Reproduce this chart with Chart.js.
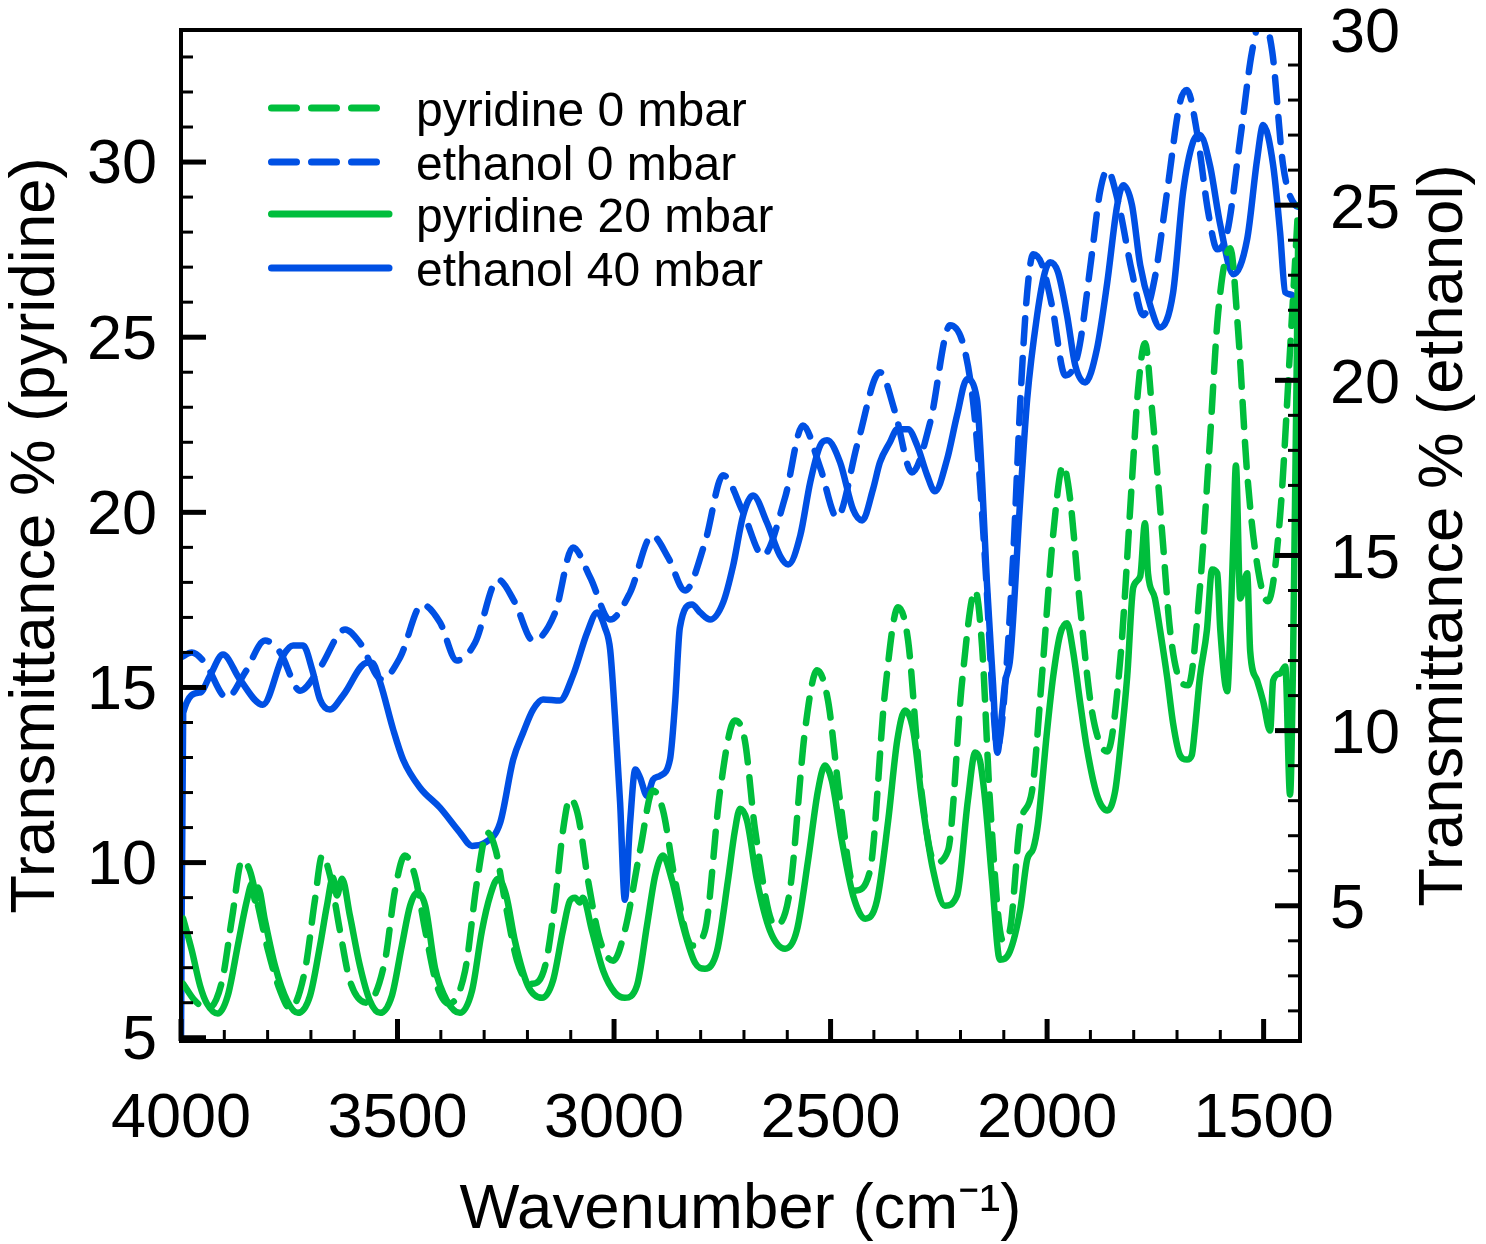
<!DOCTYPE html>
<html lang="en">
<head>
  <meta charset="UTF-8">
  <title>Transmittance spectra</title>
  <script src="https://cdn.jsdelivr.net/npm/chart.js"></script>
  <style>
    body { margin: 0; background: #fff; }
    #wrap { width: 1486px; height: 1244px; }
  </style>
</head>
<body>
  <div id="wrap"><canvas id="spectra" width="1486" height="1244"></canvas></div>

  <script>
    // axis ranges and tick labels
    const xMin = 1416, xMax = 4000;
    const xTicks = [4000, 3500, 3000, 2500, 2000, 1500];
    const yLeftMin = 4.907, yLeftMax = 33.77;
    const yLeftTicks = [5, 10, 15, 20, 25, 30];
    const yRightMin = 1.14, yRightMax = 30;
    const yRightTicks = [5, 10, 15, 20, 25, 30];

    // pyridine 0 mbar (left axis)
    const pyr0Wn = [3995,3968,3938,3905,3882,3859,3841,3822,3799,3771,3748,3714,3691,3674,3656,3633,3610,3570,3529,3506,
      3483,3460,3436,3409,3381,3344,3316,3293,3273,3252,3224,3189,3159,3136,3118,3102,3083,3060,3032,3002,
      2975,2940,2910,2887,2859,2820,2790,2755,2721,2698,2674,2628,2594,2559,2531,2506,2478,2443,2409,2374,
      2344,2321,2293,2259,2229,2196,2166,2150,2132,2102,2086,2062,2035,2012,1986,1963,1947,1924,1896,1861,
      1831,1804,1790,1774,1757,1734,1716,1693,1674,1647,1624,1605,1577,1559,1538,1513,1490,1462,1439,1420];
    const pyr0T = [6.54,6.06,5.83,6.63,8.43,10.06,9.77,8.77,7.49,6.34,5.83,6.91,8.91,10.2,9.63,8.06,6.63,6.0,7.2,9.2,
      10.2,9.63,8.06,6.49,5.97,6.91,9.49,10.86,10.34,8.91,7.2,6.54,7.06,8.91,10.91,11.83,11.34,9.49,7.77,7.2,
      8.06,10.34,12.06,11.49,9.49,7.63,8.06,12.06,14.06,13.49,10.91,8.2,9.2,13.77,15.49,14.63,11.77,9.2,9.77,14.91,
      17.29,16.34,12.34,10.0,10.34,15.2,17.77,16.14,11.77,7.77,8.06,11.11,12.03,15.31,19.37,21.34,20.4,17.34,14.29,13.17,
      15.8,20.91,23.49,24.83,22.83,19.37,16.63,15.2,15.06,17.86,22.06,25.69,27.54,25.2,21.11,18.37,17.46,19.89,24.63,28.77];

    // ethanol 0 mbar (right axis)
    const eth0Wn = [4000,3975,3945,3894,3852,3806,3771,3725,3679,3621,3587,3536,3494,3443,3402,3363,3321,3268,3229,3187,
      3136,3095,3055,3009,2963,2912,2875,2836,2790,2748,2702,2656,2605,2564,2524,2485,2437,2386,2351,2312,
      2270,2224,2189,2166,2143,2125,2115,2102,2078,2062,2046,2032,2012,1988,1958,1928,1896,1878,1861,1836,
      1804,1778,1751,1723,1693,1677,1654,1628,1607,1584,1554,1527,1504,1480,1455,1427,1416];
    const eth0T = [12.09,12.23,11.94,10.94,11.66,12.57,12.23,11.14,11.8,12.89,12.51,11.46,12.09,13.6,13.09,12.0,12.51,14.31,13.66,12.57,
      13.37,15.23,14.37,13.17,13.94,15.57,14.94,14.0,15.37,17.29,16.23,15.0,16.66,18.71,17.51,16.09,18.23,20.23,19.09,17.37,
      18.8,21.57,20.8,18.8,14.8,10.8,9.51,10.51,15.09,19.37,22.51,23.6,23.31,22.09,20.14,20.8,23.66,25.37,26.0,25.09,
      23.09,21.86,22.94,25.37,27.94,28.29,27.09,24.8,23.74,24.23,26.89,29.37,30.37,29.37,26.14,25.0,24.94];

    // pyridine 20 mbar (left axis)
    const pyr20Wn = [3995,3975,3956,3940,3915,3892,3868,3848,3836,3829,3822,3806,3783,3755,3730,3702,3679,3663,3649,3640,
      3628,3610,3587,3564,3540,3513,3490,3471,3455,3436,3413,3386,3356,3328,3305,3286,3268,3249,3229,3199,
      3166,3141,3118,3102,3090,3079,3072,3051,3025,2998,2975,2947,2924,2905,2887,2866,2841,2813,2790,2762,
      2737,2721,2709,2693,2670,2640,2605,2578,2552,2529,2513,2497,2474,2448,2420,2393,2367,2346,2328,2309,
      2289,2263,2236,2208,2183,2166,2155,2143,2127,2109,2086,2062,2046,2032,2021,2000,1986,1970,1954,1940,
      1924,1908,1885,1861,1843,1831,1815,1801,1785,1774,1767,1751,1739,1723,1709,1693,1677,1666,1659,1647,
      1631,1619,1607,1600,1584,1577,1570,1564,1554,1538,1531,1515,1501,1485,1478,1462,1450,1439,1432,1420];
    const pyr20T = [8.4,7.49,6.49,5.97,5.69,6.2,7.69,8.91,9.4,8.91,9.29,8.34,7.06,6.06,5.71,6.2,7.63,8.77,9.57,9.06,
      9.54,8.49,7.06,6.06,5.71,6.2,7.63,8.77,9.14,8.77,6.97,6.06,5.71,6.34,8.06,9.06,9.54,9.06,7.77,6.49,
      6.14,6.63,8.06,8.91,9.0,8.86,9.0,8.06,6.91,6.29,6.14,6.49,8.2,9.63,10.2,9.49,8.2,7.14,6.97,7.49,
      9.49,10.91,11.54,11.2,9.49,8.06,7.54,8.06,10.06,12.06,12.77,12.34,10.63,9.06,8.4,8.91,11.2,13.49,14.34,13.77,
      11.77,9.77,8.77,9.06,11.77,13.14,12.91,11.77,9.49,7.23,7.46,8.66,10.09,10.4,11.11,13.77,15.31,16.51,16.83,16.03,
      14.6,13.26,11.94,11.49,12.03,13.26,15.31,17.86,18.17,19.69,18.26,17.54,16.63,15.31,13.97,13.06,12.94,13.06,13.77,15.31,
      16.63,18.37,18.26,16.63,14.89,16.63,19.17,21.34,17.54,18.26,16.03,15.2,14.6,13.77,15.2,15.4,15.6,11.94,15.8,28.06];

    // ethanol 40 mbar (right axis)
    const eth40Wn = [4000,3995,3956,3933,3903,3864,3811,3764,3741,3718,3697,3679,3656,3626,3570,3559,3540,3510,3487,3448,
      3402,3356,3328,3298,3263,3233,3210,3187,3164,3125,3095,3062,3039,3021,3009,2998,2986,2975,2963,2951,
      2940,2924,2910,2894,2871,2859,2848,2820,2801,2778,2748,2725,2702,2679,2647,2617,2598,2570,2547,2524,
      2508,2478,2448,2427,2402,2386,2363,2346,2321,2300,2277,2259,2231,2208,2185,2162,2150,2139,2125,2115,
      2104,2097,2085,2062,2046,2023,2005,1993,1975,1954,1935,1912,1885,1861,1838,1824,1804,1785,1762,1739,
      1709,1686,1663,1647,1624,1600,1570,1538,1515,1501,1478,1462,1450,1434,1420,1416];
    const eth40T = [1.1,10.51,11.09,11.57,12.17,11.46,10.74,12.14,12.43,12.43,11.74,10.89,10.6,11.0,11.94,11.94,11.37,10.03,9.17,8.37,
      7.8,7.09,6.71,6.8,7.37,9.17,9.94,10.6,10.89,10.86,11.57,12.8,13.37,12.94,12.31,10.43,7.94,5.17,7.37,8.89,
      8.66,8.14,8.6,8.71,9.17,10.8,12.94,13.6,13.37,13.17,13.66,14.71,16.14,16.71,15.94,15.0,14.74,15.57,17.09,18.14,
      18.29,17.66,16.31,16.0,16.89,17.66,18.23,18.6,18.6,18.14,17.29,16.83,17.74,19.0,20.03,19.46,17.09,14.23,11.37,9.37,
      10.51,11.37,12.09,16.6,19.46,21.86,23.09,23.37,23.09,21.86,20.43,19.94,20.89,22.8,25.0,25.57,25.0,23.29,22.14,21.51,
      22.51,25.37,26.8,27.0,26.14,24.43,23.03,24.03,26.31,27.29,26.14,24.23,22.51,22.43,21.37,20.2];

    const green = '#00be3c';
    const blue = '#0050e4';
    const fontFamily = '"Liberation Sans", Arial, Helvetica, sans-serif';

    function toPoints(wn, t) {
      return wn.map((w, i) => ({ x: w, y: t[i] }));
    }

    function series(label, wn, t, color, dashed, axis) {
      return {
        label: label,
        data: toPoints(wn, t),
        yAxisID: axis,
        borderColor: color,
        borderWidth: 6.5,
        borderDash: dashed ? [25, 15] : [],
        borderCapStyle: 'round',
        borderJoinStyle: 'round',
        cubicInterpolationMode: 'monotone',
        pointRadius: 0,
        fill: false
      };
    }

    // keep the plot box where the reference has it
    function fixBox(size) {
      return s => {
        if (s.isHorizontal()) s.height = size; else s.width = size;
        s.paddingTop = 0; s.paddingBottom = 0;
        s.paddingLeft = 0; s.paddingRight = 0;
      };
    }

    // frame, inward ticks, right-hand title and the legend
    const decorations = {
      id: 'decorations',
      afterDatasetsDraw(chart) {
        const ctx = chart.ctx;
        const a = chart.chartArea;
        const sx = chart.scales.x, sl = chart.scales.y, sr = chart.scales.y2;
        ctx.save();
        ctx.strokeStyle = '#000';
        ctx.lineCap = 'butt';

        function line(x1, y1, x2, y2, w) {
          ctx.lineWidth = w;
          ctx.beginPath();
          ctx.moveTo(x1, y1);
          ctx.lineTo(x2, y2);
          ctx.stroke();
        }

        for (let v = 1500; v <= 4000; v += 100) {
          const px = sx.getPixelForValue(v);
          const major = v % 500 === 0;
          line(px, a.bottom, px, a.bottom - (major ? 22 : 11), major ? 5 : 3);
        }
        for (let v = 5; v <= 33; v++) {
          const py = sl.getPixelForValue(v);
          const major = v % 5 === 0;
          line(a.left, py, a.left + (major ? 25 : 12), py, major ? 5 : 3);
        }
        for (let v = 2; v <= 29; v++) {
          const py = sr.getPixelForValue(v);
          const major = v % 5 === 0;
          line(a.right, py, a.right - (major ? 25 : 12), py, major ? 5 : 3);
        }

        ctx.lineWidth = 4;
        ctx.strokeRect(a.left, a.top, a.right - a.left, a.bottom - a.top);

        // right axis title reads bottom to top like the left one
        ctx.fillStyle = '#000';
        ctx.font = '63.5px ' + fontFamily;
        ctx.save();
        ctx.translate(1444, (a.top + a.bottom) / 2);
        ctx.rotate(-Math.PI / 2);
        ctx.textAlign = 'center';
        ctx.textBaseline = 'middle';
        ctx.fillText('Transmittance % (ethanol)', 0, 0);
        ctx.restore();

        // legend
        const rows = [108, 162, 214, 268];
        ctx.font = '48px ' + fontFamily;
        ctx.textAlign = 'left';
        ctx.textBaseline = 'alphabetic';
        chart.data.datasets.forEach((ds, i) => {
          const y = rows[i];
          ctx.strokeStyle = ds.borderColor;
          ctx.lineWidth = 7;
          ctx.lineCap = 'round';
          ctx.setLineDash(ds.borderDash.length ? [25, 15] : []);
          ctx.beginPath();
          ctx.moveTo(271.5, y);
          ctx.lineTo(ds.borderDash.length ? 378 : 389, y);
          ctx.stroke();
          ctx.setLineDash([]);
          ctx.fillStyle = '#000';
          ctx.fillText(ds.label, 416, y + 18);
        });
        ctx.restore();
      }
    };

    const tickFont = { family: fontFamily, size: 63 };
    const titleFont = { family: fontFamily, size: 63.5, lineHeight: 1.05 };

    new Chart(document.getElementById('spectra'), {
      type: 'line',
      data: {
        datasets: [
          series('pyridine 0 mbar', pyr0Wn, pyr0T, green, true, 'y'),
          series('ethanol 0 mbar', eth0Wn, eth0T, blue, true, 'y2'),
          series('pyridine 20 mbar', pyr20Wn, pyr20T, green, false, 'y'),
          series('ethanol 40 mbar', eth40Wn, eth40T, blue, false, 'y2')
        ]
      },
      options: {
        responsive: false,
        animation: false,
        layout: { padding: { top: 30, left: 0, right: 0, bottom: 0 } },
        plugins: {
          legend: { display: false },
          tooltip: { enabled: false }
        },
        scales: {
          x: {
            type: 'linear',
            reverse: true,
            min: xMin,
            max: xMax,
            afterFit: fixBox(203),
            afterBuildTicks: s => { s.ticks = xTicks.map(v => ({ value: v })); },
            grid: { display: false, drawTicks: false },
            border: { display: false },
            ticks: {
              font: tickFont, color: '#000', padding: 41,
              maxRotation: 0, autoSkip: false,
              callback: v => String(v)
            },
            title: {
              display: true, text: 'Wavenumber (cm\u207B\u00B9)', color: '#000',
              font: titleFont,
              padding: { top: 0, bottom: 0 }
            }
          },
          y: {
            position: 'left',
            min: yLeftMin,
            max: yLeftMax,
            afterFit: fixBox(181),
            afterBuildTicks: s => { s.ticks = yLeftTicks.map(v => ({ value: v })); },
            grid: { display: false, drawTicks: false },
            border: { display: false },
            ticks: { font: tickFont, color: '#000', padding: 24, labelOffset: 4, callback: v => String(v) },
            title: {
              display: true, text: 'Transmittance % (pyridine)', color: '#000',
              font: titleFont,
              padding: { top: 3, bottom: 0 }
            }
          },
          y2: {
            position: 'right',
            min: yRightMin,
            max: yRightMax,
            afterFit: fixBox(186),
            afterBuildTicks: s => { s.ticks = yRightTicks.map(v => ({ value: v })); },
            grid: { display: false, drawTicks: false },
            border: { display: false },
            ticks: { font: tickFont, color: '#000', padding: 30, labelOffset: 5, callback: v => String(v) }
          }
        }
      },
      plugins: [decorations]
    });
  </script>
</body>
</html>
